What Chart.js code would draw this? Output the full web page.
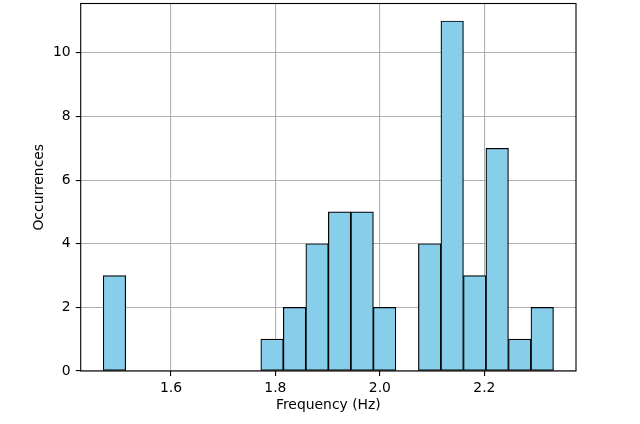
<!DOCTYPE html>
<html>
<head>
<meta charset="utf-8">
<script src="https://cdn.jsdelivr.net/npm/chart.js@4/dist/chart.umd.min.js"></script>
<style>
  html, body { margin: 0; padding: 0; background: #ffffff; }
  #wrap { width: 640px; height: 424px; }
</style>
</head>
<body>
<div id="wrap"><canvas id="HistChart" width="640" height="424"></canvas></div>
<script>
// histogram: 20 bins between binStart and binEnd
const binStart = 1.4703;
const binEnd = 2.3324;
const counts = [3, 0, 0, 0, 0, 0, 0, 1, 2, 4, 5, 5, 2, 0, 4, 11, 3, 7, 1, 2];
const xTicks = [1.6, 1.8, 2.0, 2.2];
const yTicks = [0, 2, 4, 6, 8, 10];
const xRange = [1.4272, 2.3755];
const yRange = [0, 11.55];

const binWidth = (binEnd - binStart) / counts.length;
const histData = counts.map((c, i) => ({ x: binStart + (i + 0.5) * binWidth, y: c }));

const fontFamily = "'DejaVu Sans', sans-serif";
const gridColor = "#b0b0b0";

// black box around the plot area (matplotlib spines)
const frame = {
  id: "frame",
  afterDraw(chart) {
    const { ctx, chartArea } = chart;
    ctx.save();
    ctx.strokeStyle = "#000000";
    ctx.lineWidth = 1.1;
    ctx.strokeRect(chartArea.left, chartArea.top, chartArea.right - chartArea.left, chartArea.bottom - chartArea.top);
    ctx.restore();
  },
};

const histCTX = document.getElementById("HistChart").getContext("2d");

new Chart(histCTX, {
  type: "bar",
  data: {
    datasets: [
      {
        label: "Occurrences",
        data: histData,
        backgroundColor: "#87ceeb",
        borderColor: "#000000",
        borderWidth: 1.2,
        borderSkipped: false,
        categoryPercentage: 1.0,
        barPercentage: 1.0,
      },
    ],
  },
  options: {
    responsive: false,
    animation: false,
    devicePixelRatio: 1,
    layout: {
      padding: { left: 0, right: 64, top: 3.5, bottom: 0 },
    },
    plugins: {
      legend: { display: false },
      tooltip: { enabled: false },
    },
    scales: {
      x: {
        type: "linear",
        min: xRange[0],
        max: xRange[1],
        offset: false,
        z: 1,
        afterFit: (scale) => {
          scale.height = 53;
          scale.paddingLeft = 0;
          scale.paddingRight = 0;
        },
        afterBuildTicks: (scale) => { scale.ticks = xTicks.map(v => ({ value: v })); },
        grid: {
          offset: false,
          color: gridColor,
          lineWidth: 1.1,
          tickColor: "#000000",
          tickLength: 5,
        },
        border: { display: false },
        ticks: {
          color: "#000000",
          padding: 4,
          maxRotation: 0,
          font: { family: fontFamily, size: 13.9 },
          callback: (v) => Number(v).toFixed(1),
        },
        title: {
          display: true,
          text: "Frequency (Hz)",
          color: "#000000",
          font: { family: fontFamily, size: 13.9 },
          padding: { top: 0, bottom: 10.5 },
        },
      },
      y: {
        min: yRange[0],
        max: yRange[1],
        z: 1,
        afterFit: (scale) => {
          scale.width = 80.7;
          scale.paddingTop = 0;
          scale.paddingBottom = 0;
        },
        afterBuildTicks: (scale) => { scale.ticks = yTicks.map(v => ({ value: v })); },
        grid: {
          color: gridColor,
          lineWidth: 1.1,
          tickColor: "#000000",
          tickLength: 5,
        },
        border: { display: false },
        ticks: {
          color: "#000000",
          padding: 5,
          font: { family: fontFamily, size: 13.9 },
          callback: (v) => String(v),
        },
        title: {
          display: true,
          text: "Occurrences",
          color: "#000000",
          font: { family: fontFamily, size: 13.9 },
          padding: { top: 31.5, bottom: 0 },
        },
      },
    },
  },
  plugins: [frame],
});
</script>
</body>
</html>
